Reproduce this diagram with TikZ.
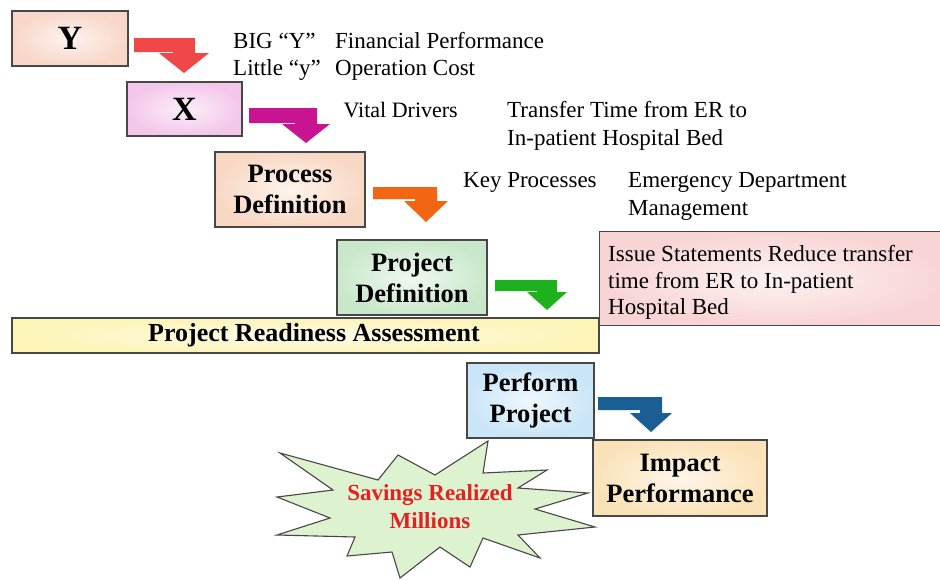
\documentclass[tikz,border=0pt]{standalone}
\usepackage{fontspec}
\setmainfont{Liberation Serif}
\definecolor{bordergray}{HTML}{474747}
\definecolor{ycol}{HTML}{F8D6C8}
\definecolor{xcol}{HTML}{F3C6EA}
\definecolor{pcol}{HTML}{F8D8C4}
\definecolor{pdcol}{HTML}{C9E8CB}
\definecolor{iscol}{HTML}{F8D4D4}
\definecolor{rdcol}{HTML}{FDF4B8}
\definecolor{ppcol}{HTML}{C9E5F7}
\definecolor{imcol}{HTML}{FAE2B8}
\definecolor{stcol}{HTML}{DDF3D0}
\definecolor{ared}{HTML}{F04848}
\definecolor{amag}{HTML}{C81490}
\definecolor{aorg}{HTML}{F26512}
\definecolor{agrn}{HTML}{1DB21D}
\definecolor{ablu}{HTML}{1B5E94}
\definecolor{savred}{HTML}{E52020}
\newcommand{\bentarr}[9]{%
  \fill[#1] (#2,#3) -- ({#5+#6},#3) -- ({#5+#6},#8) -- ({#5+#7},#8) -- (#5,#9)
    -- ({#5-#7},#8) -- ({#5-#6},#8) -- ({#5-#6},#4) -- (#2,#4) -- cycle;}
\begin{document}
\begin{tikzpicture}[x=1pt,y=-1pt,
  box/.style={draw=bordergray, line width=1.1pt, inner sep=0pt, align=center,
    font=\bfseries\fontsize{26.5}{31}\selectfont},
  bigbox/.style={box, font=\bfseries\fontsize{34}{40}\selectfont},
  txt/.style={anchor=base west, inner sep=0pt, font=\fontsize{23}{28}\selectfont},
  shbox/.style={shade, inner color=#1!30!white, outer color=#1}]
\useasboundingbox (0,0) rectangle (940,579);
\fill[white] (0,0) rectangle (940,579);

% boxes
\node[bigbox, shbox=ycol, minimum width=116pt, minimum height=55pt] (Y) at (70,38.5) {Y};
\node[bigbox, shbox=xcol, minimum width=115pt, minimum height=54pt] (X) at (184.5,109) {X};
\node[box, shbox=pcol, minimum width=150pt, minimum height=75pt] (proc) at (290,189.5) {Process\\Definition};
\node[box, shbox=pdcol, minimum width=150pt, minimum height=75pt] (projdef) at (412,277.5) {Project\\Definition};
\node[box, shbox=iscol, minimum width=350pt, minimum height=94pt, anchor=north west] (issue) at (599,231) {};
\node[box, shbox=rdcol, minimum width=587pt, minimum height=35pt] (ready) at (305.5,335.5) {};
\node[inner sep=0pt, font=\bfseries\fontsize{26}{30}\selectfont] (readylbl) at (314,335.5) {Project Readiness Assessment};
\node[box, shbox=ppcol, minimum width=127pt, minimum height=75pt] (perf) at (530.5,400.5) {Perform\\Project};
\node[box, shbox=imcol, minimum width=174pt, minimum height=76pt] (impact) at (680,478) {Impact\\Performance};

% bent arrows
\bentarr{ared}{134}{38}{52}{184}{11}{25}{53}{73}
\bentarr{amag}{249}{108}{123}{306}{11}{24}{124}{143}
\bentarr{aorg}{373}{187}{199}{426}{11}{22}{201}{222}
\bentarr{agrn}{495}{280}{291}{547}{10}{20}{292}{310}
\bentarr{ablu}{598}{397}{410}{651}{11}{21}{413}{432}

% free texts
\node[txt] (big1) at (233,48) {BIG “Y”};
\node[txt] (big2) at (335,48) {Financial Performance};
\node[txt] (lit1) at (233,75) {Little “y”};
\node[txt] (lit2) at (335,75) {Operation Cost};
\node[txt, anchor=base east, font=\fontsize{22}{28}\selectfont] (vital) at (458,117) {Vital Drivers};
\node[txt] (tr1) at (507,117) {Transfer Time from ER to};
\node[txt] (tr2) at (507,145) {In-patient Hospital Bed};
\node[txt] (key) at (463,187) {Key Processes};
\node[txt] (em1) at (628,187) {Emergency Department};
\node[txt] (em2) at (628,215) {Management};
\node[txt] (is1) at (608,261) {Issue Statements Reduce transfer};
\node[txt] (is2) at (608,288) {time from ER to In-patient};
\node[txt] (is3) at (608,314) {Hospital Bed};

% star
\filldraw[fill=stcol, draw=bordergray, line width=1.1pt, line join=miter]
  (488,441) -- (483,473) -- (547,470) -- (518,488) -- (588,493) -- (535,509)
  -- (595,527) -- (518,535) -- (540,558) -- (483,538) -- (470,567) -- (440,547)
  -- (400,578) -- (392,552) -- (347,556) -- (355,537) -- (277,535) -- (330,518)
  -- (277,497) -- (333,490) -- (280,453) -- (378,480) -- (398,455) -- (435,475) -- cycle;
\node[align=center, inner sep=0pt, text=savred, font=\bfseries\fontsize{23}{28}\selectfont] (sav) at (430,507) {Savings Realized\\Millions};
\end{tikzpicture}
\end{document}
